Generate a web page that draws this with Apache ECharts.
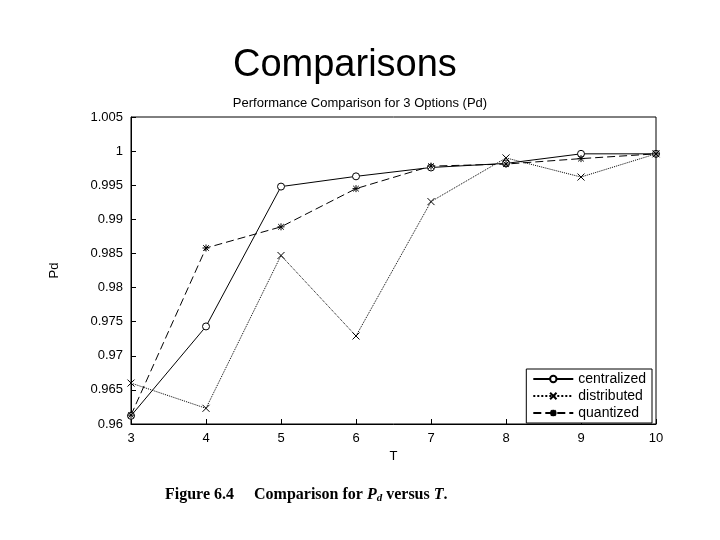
<!DOCTYPE html>
<html><head><meta charset="utf-8">
<script src="https://cdn.jsdelivr.net/npm/echarts@6/dist/echarts.min.js"></script>
<style>body{margin:0;background:#fff}#c{width:720px;height:540px}</style>
</head><body><div id="c"></div>
<script>
const tValues = [3, 4, 5, 6, 7, 8, 9, 10];
const centralized = [0.9612, 0.9743, 0.9948, 0.9963, 0.9976, 0.9982, 0.9996, 0.9996];
const distributed = [0.9660, 0.9623, 0.9847, 0.9729, 0.9926, 0.9990, 0.9962, 0.9996];
const quantized = [0.9613, 0.9858, 0.9889, 0.9945, 0.9978, 0.9981, 0.9989, 0.9996];

const pair = arr => tValues.map((t, i) => [t, arr[i]]);
const line = (name, data, type, symbol) => ({
  name, type: 'line', data: pair(data), symbol, symbolSize: 7,
  lineStyle: { color: '#000', width: 1, type },
  itemStyle: { color: '#fff', borderColor: '#000', borderWidth: 1 }
});

const chart = echarts.init(document.getElementById('c'));
chart.setOption({
  animation: false,
  textStyle: { fontFamily: 'Liberation Sans' },
  title: [
    { text: 'Comparisons', left: 228, top: 42, textStyle: { fontSize: 38, fontWeight: 'normal', color: '#000' } },
    { text: 'Performance Comparison for 3 Options (Pd)', left: 'center', top: 92, textStyle: { fontSize: 13, fontWeight: 'normal', color: '#000' } },
    { text: '{b|Figure 6.4}    {n|Comparison for }{i|P}{s|d}{n| versus }{i|T}{n|.}', left: 160, top: 480,
      textStyle: { color: '#000', rich: {
        b: { fontFamily: 'Liberation Serif', fontWeight: 'bold', fontSize: 16, color: '#000' },
        n: { fontFamily: 'Liberation Serif', fontWeight: 'bold', fontSize: 16, color: '#000' },
        i: { fontFamily: 'Liberation Serif', fontStyle: 'italic', fontSize: 16, color: '#000' },
        s: { fontFamily: 'Liberation Serif', fontStyle: 'italic', fontSize: 11, padding: [8, 0, 0, 0], color: '#000' }
      } } }
  ],
  grid: { left: 131, right: 64, top: 117, bottom: 116, show: true, borderColor: '#000', borderWidth: 1 },
  legend: {
    right: 68, bottom: 117, orient: 'vertical', itemGap: 3, itemWidth: 40, itemHeight: 8,
    backgroundColor: '#fff', borderColor: '#000', borderWidth: 1, padding: [3, 6],
    textStyle: { fontSize: 14, color: '#000' }
  },
  xAxis: {
    type: 'value', min: 3, max: 10, interval: 1, name: 'T', nameLocation: 'middle', nameGap: 20,
    nameTextStyle: { fontSize: 13, color: '#000' },
    axisLine: { lineStyle: { color: '#000' } }, axisTick: { inside: true, lineStyle: { color: '#000' } },
    axisLabel: { color: '#000', fontSize: 13 }, splitLine: { show: false }
  },
  yAxis: {
    type: 'value', min: 0.96, max: 1.005, interval: 0.005, name: 'Pd', nameLocation: 'middle', nameGap: 70,
    nameTextStyle: { fontSize: 13, color: '#000' },
    axisLine: { show: true, lineStyle: { color: '#000' } }, axisTick: { show: true, inside: true, lineStyle: { color: '#000' } },
    axisLabel: { color: '#000', fontSize: 13, formatter: v => String(+v.toFixed(3)) }, splitLine: { show: false }
  },
  series: [
    line('centralized', centralized, 'solid', 'circle'),
    line('distributed', distributed, 'dotted', 'path://M0,0L10,10M10,0L0,10'),
    line('quantized', quantized, [8, 4], 'path://M5,0L5,10M0,5L10,5M1,1L9,9M9,1L1,9')
  ]
});
</script></body></html>
